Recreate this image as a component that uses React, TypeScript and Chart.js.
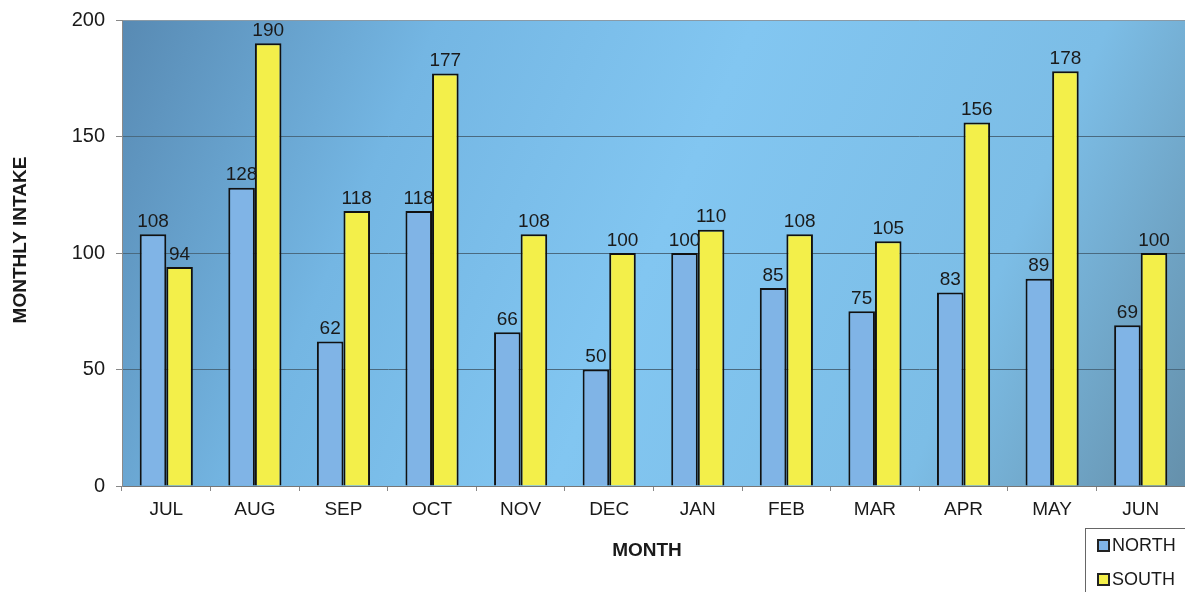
import React, { useEffect, useRef } from "react";
import { Chart, registerables } from "chart.js";

Chart.register(...registerables);

const months = ["JUL", "AUG", "SEP", "OCT", "NOV", "DEC", "JAN", "FEB", "MAR", "APR", "MAY", "JUN"];
const northValues = [108, 128, 62, 118, 66, 50, 100, 85, 75, 83, 89, 69];
const southValues = [94, 190, 118, 177, 108, 100, 110, 108, 105, 156, 178, 100];
const seriesNames = ["NORTH", "SOUTH"];
const yTicks = [0, 50, 100, 150, 200];

const FONT = "'Liberation Sans', Arial, sans-serif";

const bgPlugin = {
  id: "bgGradient",
  beforeDraw(chart: any) {
    const { ctx, chartArea } = chart;
    const { left, top, right, bottom } = chartArea;
    ctx.save();
    const g = ctx.createLinearGradient(left, top, right, bottom);
    g.addColorStop(0, "#588ab3");
    g.addColorStop(0.25, "#74b6e3");
    g.addColorStop(0.5, "#82c6f1");
    g.addColorStop(0.78, "#7cbde6");
    g.addColorStop(1, "#6590ab");
    ctx.fillStyle = g;
    ctx.fillRect(left, top, right - left, bottom - top);
    ctx.restore();
  },
};

const labelsPlugin = {
  id: "extraText",
  afterDatasetsDraw(chart: any) {
    const { ctx } = chart;
    ctx.save();
    ctx.fillStyle = "#1a1a1a";
    ctx.font = `19px ${FONT}`;
    ctx.textAlign = "center";
    ctx.textBaseline = "bottom";
    chart.data.datasets.forEach((ds: any, i: number) => {
      const meta = chart.getDatasetMeta(i);
      meta.data.forEach((bar: any, j: number) => {
        ctx.fillText(String(ds.data[j]), bar.x, bar.y - 3);
      });
    });
    ctx.restore();
  },
  afterDraw(chart: any) {
    const { ctx } = chart;
    ctx.save();
    ctx.fillStyle = "#1a1a1a";
    ctx.font = `bold 19px ${FONT}`;
    ctx.textAlign = "center";
    ctx.textBaseline = "middle";
    ctx.fillText("MONTH", 647, 551);
    ctx.translate(21, 240);
    ctx.rotate(-Math.PI / 2);
    ctx.fillText("MONTHLY INTAKE", 0, 0);
    ctx.restore();

    // legend
    ctx.save();
    const lx = 1085, ly = 528, lw = 110, lh = 70;
    ctx.strokeStyle = "#666";
    ctx.lineWidth = 1;
    ctx.strokeRect(lx + 0.5, ly + 0.5, lw, lh);
    const colors = ["#80b4e6", "#f3ef4a"];
    ctx.font = `18px ${FONT}`;
    ctx.textAlign = "left";
    ctx.textBaseline = "middle";
    seriesNames.forEach((name, i) => {
      const cy = ly + 17 + i * 34;
      ctx.fillStyle = colors[i];
      ctx.fillRect(lx + 13, cy - 5, 11, 11);
      ctx.strokeStyle = "#222";
      ctx.lineWidth = 2;
      ctx.strokeRect(lx + 13, cy - 5, 11, 11);
      ctx.fillStyle = "#1a1a1a";
      ctx.fillText(name, lx + 27, cy + 1);
    });
    ctx.restore();
  },
};

export default function App() {
  const ref = useRef<HTMLCanvasElement>(null);
  useEffect(() => {
    document.body.style.margin = "0";
    const chart = new Chart(ref.current!, {
      type: "bar",
      data: {
        labels: months,
        datasets: [
          {
            label: seriesNames[0],
            data: northValues,
            backgroundColor: "#80b4e6",
            borderColor: "#111",
            borderWidth: 2,
            categoryPercentage: 0.6,
            barPercentage: 1.0,
          },
          {
            label: seriesNames[1],
            data: southValues,
            backgroundColor: "#f3ef4a",
            borderColor: "#111",
            borderWidth: 2,
            categoryPercentage: 0.6,
            barPercentage: 1.0,
          },
        ],
      },
      options: {
        animation: false,
        responsive: false,
        maintainAspectRatio: false,
        layout: { padding: { top: 20, right: 0, left: 0, bottom: 0 } },
        plugins: { legend: { display: false }, tooltip: { enabled: false } },
        scales: {
          x: {
            offset: true,
            grid: {
              offset: true,
              drawOnChartArea: false,
              drawTicks: true,
              tickLength: 5,
              tickColor: "#888",
            },
            border: { display: true, color: "#777", width: 1 },
            ticks: { color: "#1a1a1a", font: { family: FONT, size: 19 }, padding: 7 },
            afterFit(scale: any) {
              scale.height = 106;
              scale.paddingLeft = 0;
              scale.paddingRight = 0;
            },
          },
          y: {
            min: 0,
            max: 200,
            afterBuildTicks(scale: any) {
              scale.ticks = yTicks.map((v) => ({ value: v }));
            },
            grid: {
              color: (c: any) => (c.tick && (c.tick.value === 0 || c.tick.value === 200) ? "#8a9aa6" : "#4a6a80"),
              lineWidth: 1,
              drawTicks: true,
              tickLength: 6,
              tickColor: "#888",
            },
            border: { display: true, color: "#8a8a8a", width: 1 },
            ticks: { color: "#1a1a1a", font: { family: FONT, size: 20 }, padding: 11 },
            afterFit(scale: any) {
              scale.width = 122;
              scale.paddingTop = 0;
              scale.paddingBottom = 0;
            },
          },
        },
      },
      plugins: [bgPlugin, labelsPlugin],
    });
    return () => chart.destroy();
  }, []);
  return <canvas ref={ref} width={1185} height={592} style={{ display: "block" }} />;
}
